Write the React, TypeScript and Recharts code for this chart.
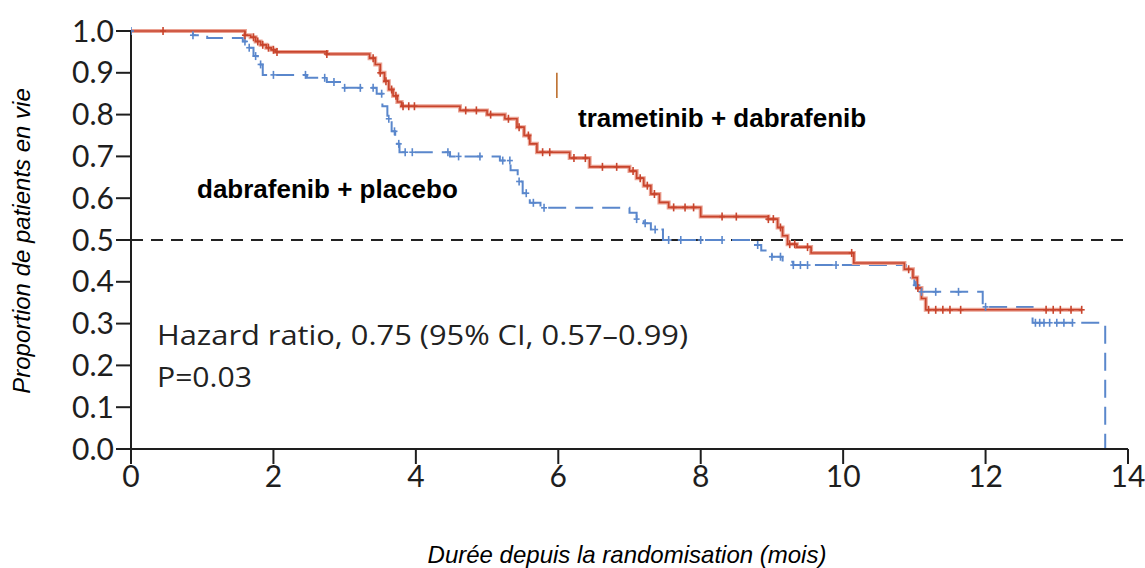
import React from "react";
import { LineChart, Line, XAxis, YAxis, ReferenceLine } from "recharts";

// Kaplan-Meier steps: month at which survival drops, and the new proportion
const redTimes = [0, 1.6, 1.68, 1.75, 1.82, 1.9, 1.97, 2.03, 2.75, 3.35, 3.43, 3.5, 3.56, 3.62, 3.68, 3.74, 3.8, 4.62, 5.0, 5.25, 5.42, 5.52, 5.6, 5.7, 6.16, 6.44, 7.0, 7.1, 7.2, 7.3, 7.42, 7.55, 8.0, 8.95, 9.08, 9.15, 9.22, 9.35, 9.55, 10.15, 10.86, 10.98, 11.04, 11.1, 11.16, 13.35];
const redSurv = [1.0, 0.99, 0.985, 0.975, 0.967, 0.96, 0.955, 0.95, 0.945, 0.935, 0.92, 0.9, 0.88, 0.86, 0.845, 0.83, 0.82, 0.81, 0.8, 0.79, 0.77, 0.75, 0.73, 0.71, 0.696, 0.675, 0.665, 0.648, 0.63, 0.61, 0.59, 0.578, 0.556, 0.55, 0.53, 0.51, 0.49, 0.483, 0.469, 0.445, 0.43, 0.41, 0.385, 0.36, 0.333, 0.333];

const blueTimes = [0, 0.87, 1.07, 1.57, 1.65, 1.72, 1.78, 1.85, 2.47, 2.75, 3.0, 3.45, 3.53, 3.6, 3.66, 3.71, 3.77, 4.48, 5.18, 5.33, 5.43, 5.5, 5.6, 5.75, 7.0, 7.1, 7.2, 7.3, 7.47, 8.72, 8.85, 9.0, 9.15, 9.3, 10.88, 10.95, 11.0, 11.07, 11.96, 12.66, 13.68];
const blueSurv = [1.0, 0.99, 0.983, 0.975, 0.96, 0.94, 0.92, 0.895, 0.888, 0.878, 0.864, 0.85, 0.82, 0.79, 0.76, 0.73, 0.71, 0.7, 0.69, 0.667, 0.64, 0.612, 0.589, 0.577, 0.565, 0.55, 0.54, 0.525, 0.5, 0.488, 0.475, 0.46, 0.448, 0.44, 0.43, 0.41, 0.392, 0.376, 0.34, 0.302, 0];

// censored patients (months)
const redCensor = [0.45, 1.6, 1.72, 1.78, 1.85, 1.93, 2.0, 2.05, 2.75, 3.4, 3.5, 3.58, 3.66, 3.72, 3.82, 3.9, 3.98, 4.7, 4.85, 5.05, 5.3, 5.45, 5.58, 5.78, 5.88, 6.22, 6.38, 6.62, 6.82, 7.05, 7.15, 7.25, 7.35, 7.62, 7.78, 7.9, 8.3, 8.5, 8.95, 9.02, 9.12, 9.25, 9.32, 9.5, 10.12, 10.92, 11.05, 11.2, 11.3, 11.4, 11.5, 11.65, 12.85, 12.95, 13.05, 13.2, 13.35];
const blueCensor = [0, 0.87, 1.6, 1.66, 1.75, 1.82, 2.0, 2.45, 2.72, 2.85, 3.0, 3.22, 3.4, 3.52, 3.62, 3.7, 3.76, 3.85, 3.95, 4.45, 4.6, 4.9, 5.22, 5.32, 5.45, 5.55, 5.65, 5.8, 7.1, 7.22, 7.36, 7.55, 7.72, 8.0, 8.3, 8.8, 9.0, 9.12, 9.3, 9.4, 9.5, 9.9, 11.02, 11.1, 11.3, 11.62, 12.0, 12.7, 12.76, 12.82, 12.9, 13.0, 13.1, 13.22];

const xTicks = [0, 2, 4, 6, 8, 10, 12, 14];
const yTicks = [0, 0.1, 0.2, 0.3, 0.4, 0.5, 0.6, 0.7, 0.8, 0.9, 1.0];

const RED = "#c8442c";
const BLUE = "#5a87cc";

const toRows = (t: number[], s: number[]) => t.map((v, i) => ({ t: v, s: s[i] }));

const survAt = (t: number[], s: number[], x: number) => {
  let v = s[0];
  for (let i = 0; i < t.length; i++) if (t[i] <= x) v = s[i];
  return v;
};

const redData = toRows(redTimes, redSurv);
const blueData = toRows(blueTimes, blueSurv);
const redMarks = redCensor.map((t) => ({ t, s: survAt(redTimes, redSurv, t) }));
const blueMarks = blueCensor.map((t) => ({ t, s: survAt(blueTimes, blueSurv, t) }));

const Censor = (color: string) => (props: any) => {
  const { cx, cy, index } = props;
  if (cx == null || cy == null) return <g key={index} />;
  return (
    <g key={index}>
      <line x1={cx} x2={cx} y1={cy - 4} y2={cy + 4} stroke={color} strokeWidth={1.6} />
      <line x1={cx - 3} x2={cx + 3} y1={cy} y2={cy} stroke={color} strokeWidth={1.6} />
    </g>
  );
};

const tickFont = { fontSize: 30, fill: "#1e1e1e", fontFamily: "Lato, 'Open Sans', sans-serif" };

export default function App() {
  return (
    <div style={{ position: "absolute", left: 0, top: 0, width: 1145, height: 568, background: "#fff" }}>
      <LineChart width={1145} height={568} margin={{ top: 31, right: 17, bottom: 79, left: 0 }}>
        <XAxis
          dataKey="t"
          type="number"
          domain={[0, 14]}
          ticks={xTicks}
          tickSize={15}
          height={40}
          allowDataOverflow
          axisLine={{ stroke: "#1e1e1e", strokeWidth: 2 }}
          tickLine={{ stroke: "#1e1e1e", strokeWidth: 2 }}
          tick={tickFont}
        />
        <YAxis
          type="number"
          domain={[0, 1]}
          ticks={yTicks}
          width={131}
          tickSize={15}
          tickFormatter={(v: number) => v.toFixed(1)}
          axisLine={{ stroke: "#1e1e1e", strokeWidth: 2 }}
          tickLine={{ stroke: "#1e1e1e", strokeWidth: 2 }}
          tick={tickFont}
        />
        <ReferenceLine y={0.5} stroke="#222" strokeWidth={2} strokeDasharray="12 8" />
        <ReferenceLine
          segment={[{ x: 5.98, y: 0.84 }, { x: 5.98, y: 0.9 }]}
          stroke="#b8651f"
          strokeWidth={1.5}
        />

        <Line data={blueData} dataKey="s" type="stepAfter" stroke={BLUE} strokeWidth={2} strokeDasharray="18 9" dot={false} isAnimationActive={false} />
        <Line data={blueMarks} dataKey="s" stroke="none" dot={Censor(BLUE)} activeDot={false} isAnimationActive={false} />

        <Line data={redData} dataKey="s" type="stepAfter" stroke="#eba394" strokeWidth={4} dot={false} isAnimationActive={false} />
        <Line data={redData} dataKey="s" type="stepAfter" stroke={RED} strokeWidth={1.6} dot={false} isAnimationActive={false} />
        <Line data={redMarks} dataKey="s" stroke="none" dot={Censor(RED)} activeDot={false} isAnimationActive={false} />

        <text x={578} y={127} fontSize={26} fontWeight="bold" fontFamily="'Liberation Sans', Arial, sans-serif" fill="#000">
          trametinib + dabrafenib
        </text>
        <text x={197} y={198} fontSize={26} fontWeight="bold" fontFamily="'Liberation Sans', Arial, sans-serif" fill="#000">
          dabrafenib + placebo
        </text>
        <text x={157} y={345} fontSize={27} fontFamily="'Open Sans', sans-serif" fill="#222" textLength={531} lengthAdjust="spacingAndGlyphs">
          Hazard ratio, 0.75 (95% CI, 0.57–0.99)
        </text>
        <text x={157} y={387} fontSize={27} fontFamily="'Open Sans', sans-serif" fill="#222" textLength={95} lengthAdjust="spacingAndGlyphs">
          P=0.03
        </text>
        <text x={627} y={563} textAnchor="middle" fontSize={24} fontStyle="italic" fontFamily="'Liberation Sans', Arial, sans-serif" fill="#000">
          Durée depuis la randomisation (mois)
        </text>
        <text
          x={30}
          y={241}
          textAnchor="middle"
          fontSize={24}
          fontStyle="italic"
          fontFamily="'Liberation Sans', Arial, sans-serif"
          fill="#000"
          transform="rotate(-90, 30, 241)"
        >
          Proportion de patients en vie
        </text>
      </LineChart>
    </div>
  );
}
